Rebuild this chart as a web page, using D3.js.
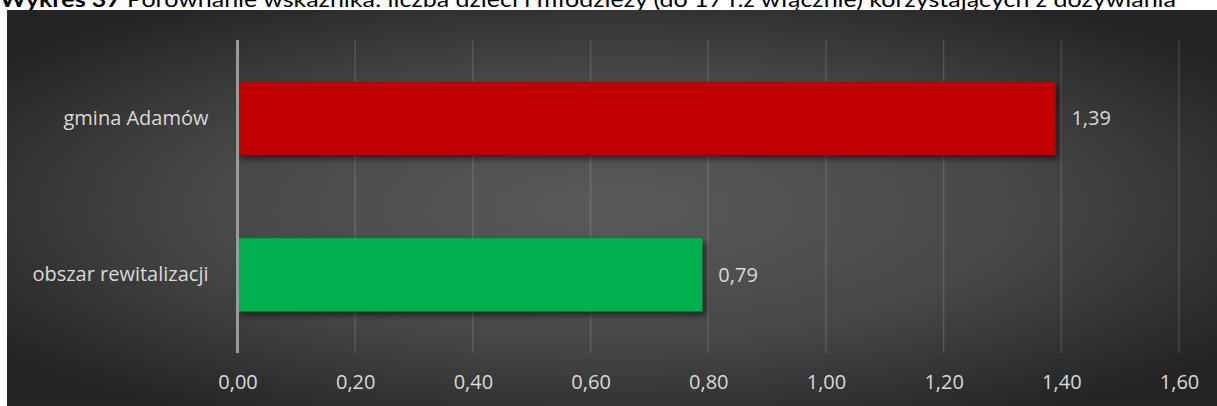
<!DOCTYPE html>
<html>
<head>
<meta charset="utf-8">
<script src="https://cdn.jsdelivr.net/npm/d3@7"></script>
<style>
  html, body { margin: 0; padding: 0; background: #ffffff; }
  svg { display: block; }
</style>
</head>
<body>
<svg id="chart" width="1217" height="406"></svg>
<script>
// ---- data ----
const titleBold = "Wykres 37";
const titleRest = " Porównanie wskaźnika: liczba dzieci i młodzieży  (do 17 r.ż włącznie) korzystających z dożywiania";
const categories = ["gmina Adamów", "obszar rewitalizacji"];
const values = [1.39, 0.79];
const barColors = ["#c00000", "#00b050"];
const tickValues = [0, 0.2, 0.4, 0.6, 0.8, 1.0, 1.2, 1.4, 1.6];
const xMax = 1.6;

// ---- layout ----
const W = 1217, H = 406;
const plot = { left: 237.5, right: 1179, top: 40, bottom: 353 };
const fmt = v => d3.format(".2f")(v).replace(".", ",");

const svg = d3.select("#chart");
const defs = svg.append("defs");

const grad = defs.append("radialGradient")
  .attr("id", "bg").attr("cx", "50%").attr("cy", "50%").attr("r", "62%");
grad.append("stop").attr("offset", "0%").attr("stop-color", "#5a5a5a");
grad.append("stop").attr("offset", "55%").attr("stop-color", "#474747");
grad.append("stop").attr("offset", "100%").attr("stop-color", "#242424");

const shadow = defs.append("filter").attr("id", "shadow")
  .attr("x", "-10%").attr("y", "-20%").attr("width", "130%").attr("height", "160%");
shadow.append("feDropShadow").attr("dx", 3).attr("dy", 4).attr("stdDeviation", 3)
  .attr("flood-color", "#000").attr("flood-opacity", 0.55);

// title (partially hidden behind chart area, as in reference)
const title = svg.append("text")
  .attr("x", 0).attr("y", 7)
  .attr("font-family", "Lato, 'Open Sans', sans-serif")
  .attr("font-size", 21)
  .attr("fill", "#000")
  .attr("textLength", 1176)
  .attr("lengthAdjust", "spacingAndGlyphs");
title.append("tspan").attr("font-weight", "bold").text(titleBold);
title.append("tspan").text(titleRest);

// chart background
svg.append("rect")
  .attr("x", 7).attr("y", 10).attr("width", W - 7).attr("height", H - 10)
  .attr("fill", "url(#bg)");

const x = d3.scaleLinear().domain([0, xMax]).range([plot.left, plot.right]);
const y = d3.scaleBand().domain(categories).range([plot.top, plot.bottom])
  .paddingInner(0.532).paddingOuter(0.266);

// gridlines
svg.append("g").selectAll("line")
  .data(tickValues.filter(d => d > 0))
  .join("line")
  .attr("x1", d => x(d)).attr("x2", d => x(d))
  .attr("y1", plot.top).attr("y2", plot.bottom)
  .attr("stroke", "rgba(255,255,255,0.13)")
  .attr("stroke-width", 1.5);

// x axis tick labels
const xAxis = d3.axisBottom(x).tickValues(tickValues).tickFormat(fmt).tickSize(0).tickPadding(0);
const gx = svg.append("g").attr("transform", `translate(0,${plot.bottom})`).call(xAxis);
gx.select(".domain").remove();
gx.selectAll("text")
  .attr("y", 36)
  .attr("dy", 0)
  .attr("font-family", "'Open Sans', sans-serif")
  .attr("font-size", 20)
  .attr("fill", "#d9d9d9");

// bars
svg.append("g").selectAll("rect")
  .data(values)
  .join("rect")
  .attr("x", x(0))
  .attr("y", (d, i) => y(categories[i]))
  .attr("width", d => x(d) - x(0))
  .attr("height", y.bandwidth())
  .attr("fill", (d, i) => barColors[i])
  .attr("filter", "url(#shadow)");

// value labels
svg.append("g").selectAll("text")
  .data(values)
  .join("text")
  .attr("x", d => x(d) + 16)
  .attr("y", (d, i) => y(categories[i]) + y.bandwidth() / 2)
  .attr("dy", "0.35em")
  .attr("font-family", "'Open Sans', sans-serif")
  .attr("font-size", 20)
  .attr("fill", "#d9d9d9")
  .text(d => fmt(d));

// y axis (category labels)
const yAxis = d3.axisLeft(y).tickSize(0).tickPadding(29);
const gy = svg.append("g").attr("transform", `translate(${plot.left},0)`).call(yAxis);
gy.select(".domain").remove();
gy.selectAll("text")
  .attr("font-family", "'Open Sans', sans-serif")
  .attr("font-size", 20)
  .attr("fill", "#d9d9d9");

// zero axis line
svg.append("line")
  .attr("x1", x(0)).attr("x2", x(0))
  .attr("y1", plot.top).attr("y2", plot.bottom)
  .attr("stroke", "#9a9a9a").attr("stroke-width", 3);
</script>
</body>
</html>
